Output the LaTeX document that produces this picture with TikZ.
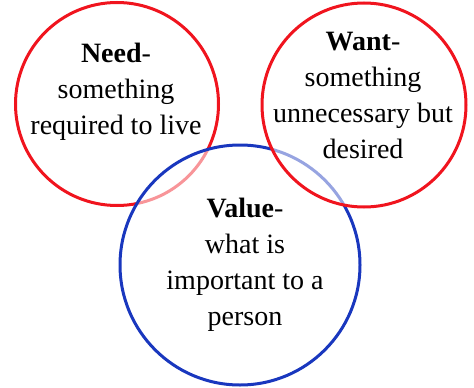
\documentclass[tikz,border=0pt]{standalone}
\usepackage{fontspec}
\setmainfont{Liberation Serif}
\begin{document}
\begin{tikzpicture}[x=1pt,y=-1pt,
  ring/.style={circle,line width=3pt,inner sep=0pt,fill=white,fill opacity=0.55,text opacity=1},
  redring/.style={ring,draw={rgb,255:red,240;green,20;blue,30}},
  bluering/.style={ring,draw={rgb,255:red,25;green,55;blue,190}},
  label/.style={align=center,font=\fontsize{28}{36}\selectfont,inner sep=0pt}]
\useasboundingbox (0,0) rectangle (474,388);
% circles, later ones veil the earlier ones
\node[redring,minimum size=203pt] (need) at (117,104) {};
\node[bluering,minimum size=240pt] (value) at (240,265) {};
\node[redring,minimum size=204pt] (want) at (364,105) {};
% texts, placed by the baseline of their last line
\node[label,anchor=base] (needtxt) at (116,134) {\textbf{Need}-\\something\\required to live};
\node[label,anchor=base] (wanttxt) at (363,158) {\textbf{Want}-\\something\\unnecessary but\\desired};
\node[label,anchor=base] (valuetxt) at (245,325) {\textbf{Value}-\\what is\\important to a\\person};
\end{tikzpicture}
\end{document}
